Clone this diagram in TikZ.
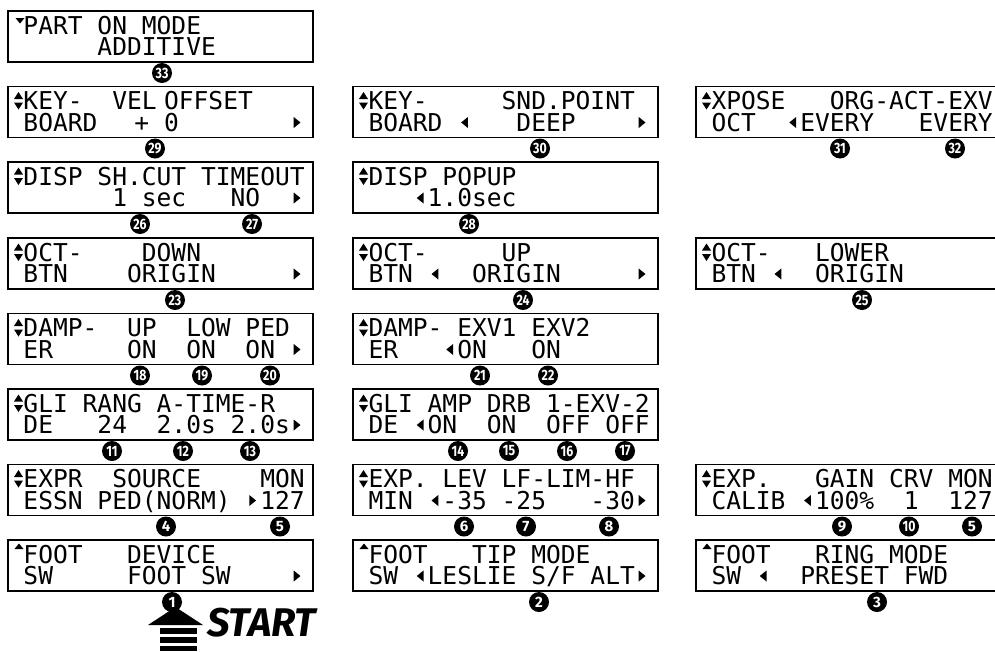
\documentclass[tikz,border=0pt]{standalone}
\usepackage{fontspec}
\newfontfamily\lcdfont{DejaVu Sans Mono}
\newfontfamily\badgefont{Fira Sans}
\newfontfamily\startfont{Fira Sans}
\tikzset{
  lcdframe/.style={draw, line width=1.8pt, minimum width=305pt, minimum height=51pt, inner sep=0pt, anchor=north west},
  lcdtext/.style={anchor=base west, inner sep=0pt, text height=17pt, text depth=0pt, font=\lcdfont\fontsize{24.58}{24.58}\selectfont},
  badge/.style={circle, fill=black, minimum size=20pt, inner sep=0pt, text=white, font=\badgefont\bfseries\fontsize{15}{15}\selectfont},
}
\newcommand\two[1]{\scalebox{0.82}[1]{#1}}
\newcommand\hc{\hspace{7.4pt}}
% name, box x, box top, line 1, line 2
\newcommand\lcdbox[5]{%
  \node[lcdframe] (#1) at (#2,#3) {};
  \node[lcdtext] (#1a) at ({#2+1.5},{#3+24}) {#4};
  \node[lcdtext] (#1b) at ({#2+1.5},{#3+45.5}) {#5};
}
% box x, baseline, cell
\newcommand\larrow[3]{\fill ({#1+8.9+14.8*#3+3.4},{#2-14}) -- ({#1+8.9+14.8*#3-3.4},{#2-8.5}) -- ({#1+8.9+14.8*#3+3.4},{#2-3}) -- cycle;}
\newcommand\rarrow[3]{\fill ({#1+8.9+14.8*#3-3.4},{#2-14}) -- ({#1+8.9+14.8*#3+3.4},{#2-8.5}) -- ({#1+8.9+14.8*#3-3.4},{#2-3}) -- cycle;}
% box x, baseline
\newcommand\updown[2]{%
  \fill ({#1+7},{#2-10.5}) -- ({#1+11.5},{#2-17.5}) -- ({#1+16},{#2-10.5}) -- cycle;
  \fill ({#1+7},{#2-7}) -- ({#1+11.5},{#2}) -- ({#1+16},{#2-7}) -- cycle;}
\newcommand\dnmark[2]{\fill ({#1+8.5},{#2-16}) -- ({#1+13},{#2-10.5}) -- ({#1+17.5},{#2-16}) -- cycle;}
\newcommand\upmark[2]{\fill ({#1+7.5},{#2-14}) -- ({#1+12},{#2-19.5}) -- ({#1+16.5},{#2-14}) -- cycle;}
\begin{document}
\begin{tikzpicture}[x=1pt,y=-1pt]
\useasboundingbox (0,0) rectangle (995,651);
% row 0
\lcdbox{pA}{7}{10}{~PART~ON~MODE}{~~~~~~ADDITIVE}
\dnmark{7}{34}
% row 1
\lcdbox{kA}{7}{85.5}{~KEY-~~VEL\hc OFFSET}{~BOARD~~\hc+~0}
\updown{7}{109.5}\rarrow{7}{131}{19}
\lcdbox{kB}{352}{85.5}{~KEY-~~~~~SND.POINT}{~BOARD~~~~~DEEP}
\updown{352}{109.5}\larrow{352}{131}{7}\rarrow{352}{131}{19}
\lcdbox{kC}{695}{85.5}{~XPOSE~~~ORG-ACT-EXV}{~OCT~~~EVERY~~~EVERY}
\updown{695}{109.5}\larrow{695}{131}{6}
% row 2
\lcdbox{dA}{7}{161}{~DISP~SH.CUT~TIMEOUT}{~~~~~~~1~sec~~~NO}
\updown{7}{185}\rarrow{7}{206.5}{19}
\lcdbox{dB}{352}{161}{~DISP~POPUP}{~~~~~1.0sec}
\updown{352}{185}\larrow{352}{206.5}{4}
% row 3
\lcdbox{oA}{7}{237}{~OCT-~~~~DOWN}{~BTN~~~~ORIGIN}
\updown{7}{261}\rarrow{7}{282.5}{19}
\lcdbox{oB}{352}{237}{~OCT-~~~~~UP}{~BTN~~~~ORIGIN}
\updown{352}{261}\larrow{352}{282.5}{5}\rarrow{352}{282.5}{19}
\lcdbox{oC}{695}{237}{~OCT-~~~LOWER}{~BTN~~~~ORIGIN}
\updown{695}{261}\larrow{695}{282.5}{5}
% row 4
\lcdbox{mA}{7}{312.5}{~DAMP-~~UP~~LOW~PED}{~ER~~~~~ON~~ON~~ON}
\updown{7}{336.5}\rarrow{7}{358}{19}
\lcdbox{mB}{352}{312.5}{~DAMP-~EXV1~EXV2}{~ER~~~~ON~~~ON}
\updown{352}{336.5}\larrow{352}{358}{6}
% row 5
\lcdbox{gA}{7}{388}{~GLI~RANG~A-TIME-R}{~DE~~~24~~2.0s~2.0s}
\updown{7}{412}\rarrow{7}{433.5}{19}
\lcdbox{gB}{352}{388}{~GLI~AMP~DRB~1-EXV-2}{~DE~~ON~~ON~~OFF~OFF}
\updown{352}{412}\larrow{352}{433.5}{4}
% row 6
\lcdbox{eA}{7}{463.5}{~EXPR~~SOURCE~~~~MON}{~ESSN~PED(NORM)~~127}
\updown{7}{487.5}\rarrow{7}{509}{16}
\lcdbox{eB}{352}{463.5}{~EXP.~LEV~LF-LIM-HF}{~MIN~~-35~-25~~~-30}
\updown{352}{487.5}\larrow{352}{509}{5}\rarrow{352}{509}{19}
\lcdbox{eC}{695}{463.5}{~EXP.~~~GAIN~CRV~MON}{~CALIB~~100\%~~1~~127}
\updown{695}{487.5}\larrow{695}{509}{7}
% row 7
\lcdbox{fA}{7}{539}{~FOOT~~~DEVICE}{~SW~~~~~FOOT~SW}
\upmark{7}{563}\rarrow{7}{584.5}{19}
\lcdbox{fB}{352}{539}{~FOOT~~~TIP~MODE}{~SW~~LESLIE~S/F~ALT}
\upmark{352}{563}\larrow{352}{584.5}{4}\rarrow{352}{584.5}{19}
\lcdbox{fC}{695}{539}{~FOOT~~~RING~MODE}{~SW~~~~PRESET~FWD}
\upmark{695}{563}\larrow{695}{584.5}{4}
% badges
\node[badge] (n33) at (162,73) {\two{33}};
\node[badge] (n29) at (155,148.5) {\two{29}};
\node[badge] (n30) at (540,148.5) {\two{30}};
\node[badge] (n31) at (840,148.5) {\two{31}};
\node[badge] (n32) at (955,148.5) {\two{32}};
\node[badge] (n26) at (140,224) {\two{26}};
\node[badge] (n27) at (252,224) {\two{27}};
\node[badge] (n28) at (469,224) {\two{28}};
\node[badge] (n23) at (175,300) {\two{23}};
\node[badge] (n24) at (523,300) {\two{24}};
\node[badge] (n25) at (862,300) {\two{25}};
\node[badge] (n18) at (140,375.5) {\two{18}};
\node[badge] (n19) at (202,375.5) {\two{19}};
\node[badge] (n20) at (270,375.5) {\two{20}};
\node[badge] (n21) at (480,375.5) {\two{21}};
\node[badge] (n22) at (548,375.5) {\two{22}};
\node[badge] (n11) at (112,451) {\two{11}};
\node[badge] (n12) at (183,451) {\two{12}};
\node[badge] (n13) at (250,451) {\two{13}};
\node[badge] (n14) at (458,451) {\two{14}};
\node[badge] (n15) at (509,451) {\two{15}};
\node[badge] (n16) at (567,451) {\two{16}};
\node[badge] (n17) at (625,451) {\two{17}};
\node[badge] (n4) at (166,526.5) {4};
\node[badge] (n5a) at (280,526.5) {5};
\node[badge] (n6) at (464,526.5) {6};
\node[badge] (n7) at (526,526.5) {7};
\node[badge] (n8) at (609,526.5) {8};
\node[badge] (n9) at (842,526.5) {9};
\node[badge] (n10) at (909,526.5) {\two{10}};
\node[badge] (n5b) at (972,526.5) {5};
\node[badge] (n1) at (172,602) {1};
\node[badge] (n2) at (539,602) {2};
\node[badge] (n3) at (877,602) {3};
% START arrow
\fill (148,625) -- (175.5,607) -- (203,625) -- cycle;
\fill (160,627.5) rectangle (197,633.5);
\fill (160,637) rectangle (197,642.5);
\fill (160,646) rectangle (197,651);
\node[anchor=base west, inner sep=0pt, font=\startfont\bfseries\itshape\fontsize{40}{40}\selectfont] (start) at (207,636) {START};
\end{tikzpicture}
\end{document}
